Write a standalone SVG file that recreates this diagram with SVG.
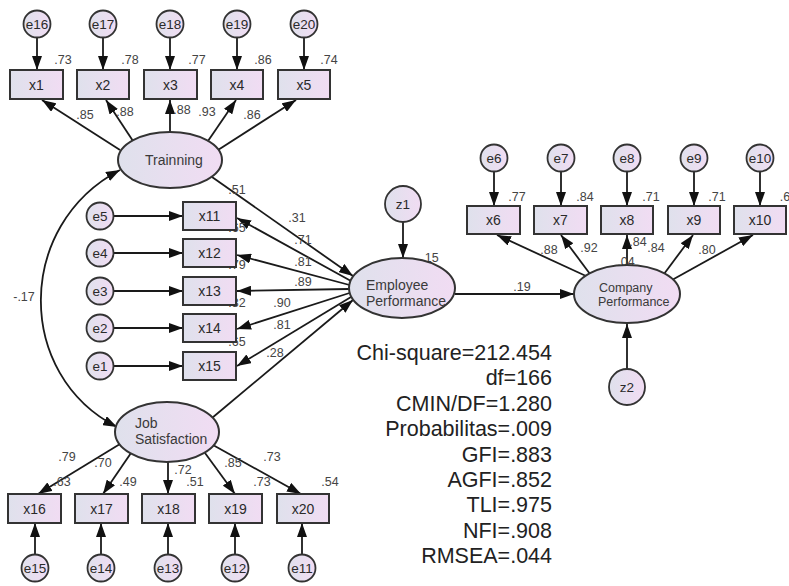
<svg xmlns="http://www.w3.org/2000/svg" width="789" height="586" viewBox="0 0 789 586">
<defs>
<linearGradient id="gf" x1="0" y1="0" x2="1" y2="0">
<stop offset="0" stop-color="#dfe1ec"/>
<stop offset="1" stop-color="#f1dcf3"/>
</linearGradient>
<marker id="ah" viewBox="0 0 14 10" refX="14" refY="5" markerWidth="14" markerHeight="10" markerUnits="userSpaceOnUse" orient="auto-start-reverse">
<path d="M0,0 L14,5 L0,10 z" fill="#111"/>
</marker>
<style>
.box{fill:url(#gf);stroke:#333;stroke-width:2}
.ell{fill:url(#gf);stroke:#333;stroke-width:2}
.cir{fill:url(#gf);stroke:#333;stroke-width:1.8}
.ln{stroke:#1a1a1a;stroke-width:1.8;fill:none;marker-end:url(#ah)}
.bl{font-family:"Liberation Sans",Arial,sans-serif;font-size:14px;fill:#2a2a2a;text-anchor:middle}
.el{font-family:"Liberation Sans",Arial,sans-serif;font-size:13.5px;fill:#2a2a2a;text-anchor:middle}
.lt{font-family:"Liberation Sans",Arial,sans-serif;font-size:14px;fill:#3a3a3a}
.co{font-family:"Liberation Sans",Arial,sans-serif;font-size:12.5px;fill:#444;text-anchor:middle}
.st{font-family:"Liberation Sans",Arial,sans-serif;font-size:21.5px;fill:#222;text-anchor:end}
</style>
</defs>
<rect width="789" height="586" fill="#fff"/>

<g id="connectors">
<line class="ln" x1="37" y1="37.5" x2="37" y2="70"/>
<line class="ln" x1="103" y1="37.5" x2="103" y2="70"/>
<line class="ln" x1="170" y1="37.5" x2="170" y2="70"/>
<line class="ln" x1="237" y1="37.5" x2="237" y2="70"/>
<line class="ln" x1="304" y1="37.5" x2="304" y2="70"/>
<line class="ln" x1="120" y1="150" x2="42" y2="100"/>
<line class="ln" x1="133" y1="141" x2="106" y2="100"/>
<line class="ln" x1="170" y1="132" x2="170" y2="100"/>
<line class="ln" x1="208" y1="141" x2="236" y2="100"/>
<line class="ln" x1="218" y1="150" x2="296" y2="100"/>
<line class="ln" x1="113.5" y1="216" x2="183" y2="216"/>
<line class="ln" x1="113.5" y1="253" x2="183" y2="253"/>
<line class="ln" x1="113.5" y1="291" x2="183" y2="291"/>
<line class="ln" x1="113.5" y1="328" x2="183" y2="328"/>
<line class="ln" x1="113.5" y1="366" x2="183" y2="366"/>
<line class="ln" x1="212" y1="177" x2="353" y2="276"/>
<line class="ln" x1="212" y1="418" x2="353" y2="300"/>
<line class="ln" x1="351" y1="281" x2="237" y2="218"/>
<line class="ln" x1="349.5" y1="285" x2="237" y2="255"/>
<line class="ln" x1="349" y1="289" x2="237" y2="291"/>
<line class="ln" x1="349.5" y1="293" x2="237" y2="329"/>
<line class="ln" x1="351" y1="297" x2="237" y2="366"/>
<line class="ln" x1="403" y1="222" x2="403" y2="258"/>
<line class="ln" x1="455" y1="294" x2="574" y2="294"/>
<line class="ln" x1="494" y1="171.5" x2="494" y2="206"/>
<line class="ln" x1="561" y1="171.5" x2="561" y2="206"/>
<line class="ln" x1="627" y1="171.5" x2="627" y2="206"/>
<line class="ln" x1="694" y1="171.5" x2="694" y2="206"/>
<line class="ln" x1="760" y1="171.5" x2="760" y2="206"/>
<line class="ln" x1="586" y1="276" x2="497" y2="235"/>
<line class="ln" x1="590" y1="274" x2="561" y2="235"/>
<line class="ln" x1="627" y1="265" x2="627" y2="235"/>
<line class="ln" x1="664" y1="274" x2="693" y2="235"/>
<line class="ln" x1="672" y1="280" x2="753" y2="235"/>
<line class="ln" x1="627" y1="368" x2="627" y2="324"/>
<line class="ln" x1="120" y1="444" x2="38" y2="494"/>
<line class="ln" x1="131" y1="453" x2="103" y2="494"/>
<line class="ln" x1="168" y1="462" x2="168" y2="494"/>
<line class="ln" x1="205" y1="453" x2="235" y2="494"/>
<line class="ln" x1="213" y1="445" x2="301" y2="494"/>
<line class="ln" x1="35" y1="554.5" x2="35" y2="523"/>
<line class="ln" x1="101" y1="554.5" x2="101" y2="523"/>
<line class="ln" x1="168" y1="554.5" x2="168" y2="523"/>
<line class="ln" x1="235" y1="554.5" x2="235" y2="523"/>
<line class="ln" x1="302" y1="554.5" x2="302" y2="523"/>
<path class="ln" d="M120,170 C15,225 15,375 117,427" style="marker-start:url(#ah)"/>
</g>

<g id="coefficients">
<text class="co" x="63" y="64">.73</text>
<text class="co" x="130" y="64">.78</text>
<text class="co" x="197" y="64">.77</text>
<text class="co" x="263" y="64">.86</text>
<text class="co" x="329" y="64">.74</text>
<text class="co" x="85" y="119">.85</text>
<text class="co" x="125" y="116">.88</text>
<text class="co" x="182" y="114">.88</text>
<text class="co" x="207" y="116">.93</text>
<text class="co" x="252" y="119">.86</text>
<text class="co" x="24" y="301">-.17</text>
<text class="co" x="237" y="194">.51</text>
<text class="co" x="297" y="222">.31</text>
<text class="co" x="237" y="232">.65</text>
<text class="co" x="303" y="244">.71</text>
<text class="co" x="237" y="269">.79</text>
<text class="co" x="303" y="266">.81</text>
<text class="co" x="303" y="286">.89</text>
<text class="co" x="237" y="307">.82</text>
<text class="co" x="282" y="307">.90</text>
<text class="co" x="282" y="329">.81</text>
<text class="co" x="237" y="346">.65</text>
<text class="co" x="275" y="357">.28</text>
<text class="co" x="430" y="262">.15</text>
<text class="co" x="522" y="291">.19</text>
<text class="co" x="517" y="201">.77</text>
<text class="co" x="585" y="201">.84</text>
<text class="co" x="651" y="201">.71</text>
<text class="co" x="717" y="201">.71</text>
<text class="co" x="785" y="201">.6</text>
<text class="co" x="549" y="254">.88</text>
<text class="co" x="589" y="252">.92</text>
<text class="co" x="638" y="246">.84</text>
<text class="co" x="626" y="266">.04</text>
<text class="co" x="656" y="252">.84</text>
<text class="co" x="707" y="254">.80</text>
<text class="co" x="67" y="461">.79</text>
<text class="co" x="103" y="467">.70</text>
<text class="co" x="183" y="474">.72</text>
<text class="co" x="233" y="467">.85</text>
<text class="co" x="272" y="461">.73</text>
<text class="co" x="62" y="486">.63</text>
<text class="co" x="128" y="486">.49</text>
<text class="co" x="195" y="486">.51</text>
<text class="co" x="262" y="486">.73</text>
<text class="co" x="330" y="486">.54</text>
</g>

<g id="e16"><circle class="cir" cx="37" cy="24" r="13.5"/><text class="el" x="37" y="28.8">e16</text></g>
<g id="e17"><circle class="cir" cx="103" cy="24" r="13.5"/><text class="el" x="103" y="28.8">e17</text></g>
<g id="e18"><circle class="cir" cx="170" cy="24" r="13.5"/><text class="el" x="170" y="28.8">e18</text></g>
<g id="e19"><circle class="cir" cx="237" cy="24" r="13.5"/><text class="el" x="237" y="28.8">e19</text></g>
<g id="e20"><circle class="cir" cx="304" cy="24" r="13.5"/><text class="el" x="304" y="28.8">e20</text></g>

<g id="x1"><rect class="box" x="10" y="70" width="53" height="29"/><text class="bl" x="36.5" y="89.5">x1</text></g>
<g id="x2"><rect class="box" x="77" y="70" width="52" height="29"/><text class="bl" x="103" y="89.5">x2</text></g>
<g id="x3"><rect class="box" x="144" y="70" width="53" height="29"/><text class="bl" x="170.5" y="89.5">x3</text></g>
<g id="x4"><rect class="box" x="211" y="70" width="52" height="29"/><text class="bl" x="237" y="89.5">x4</text></g>
<g id="x5"><rect class="box" x="278" y="70" width="52" height="29"/><text class="bl" x="304" y="89.5">x5</text></g>

<g id="trainning"><ellipse class="ell" cx="170" cy="160" rx="52" ry="28"/><text class="lt" x="145" y="165">Trainning</text></g>

<g id="e5"><circle class="cir" cx="100" cy="216" r="13.5"/><text class="el" x="100" y="220.8">e5</text></g>
<g id="e4"><circle class="cir" cx="100" cy="253" r="13.5"/><text class="el" x="100" y="257.8">e4</text></g>
<g id="e3"><circle class="cir" cx="100" cy="291" r="13.5"/><text class="el" x="100" y="295.8">e3</text></g>
<g id="e2"><circle class="cir" cx="100" cy="328" r="13.5"/><text class="el" x="100" y="332.8">e2</text></g>
<g id="e1"><circle class="cir" cx="100" cy="366" r="13.5"/><text class="el" x="100" y="370.8">e1</text></g>

<g id="x11"><rect class="box" x="183" y="202" width="53" height="28"/><text class="bl" x="209.5" y="221">x11</text></g>
<g id="x12"><rect class="box" x="183" y="239" width="53" height="28"/><text class="bl" x="209.5" y="258">x12</text></g>
<g id="x13"><rect class="box" x="183" y="277" width="53" height="28"/><text class="bl" x="209.5" y="296">x13</text></g>
<g id="x14"><rect class="box" x="183" y="314" width="53" height="28"/><text class="bl" x="209.5" y="333">x14</text></g>
<g id="x15"><rect class="box" x="183" y="352" width="53" height="28"/><text class="bl" x="209.5" y="371">x15</text></g>

<g id="z1"><circle class="cir" cx="403" cy="204" r="18"/><text class="el" x="403" y="209">z1</text></g>
<g id="employee-performance"><ellipse class="ell" cx="402" cy="288" rx="53" ry="30"/><text class="lt" x="366" y="290">Employee</text><text class="lt" x="366" y="306">Performance</text></g>

<g id="e6"><circle class="cir" cx="494" cy="158" r="13.5"/><text class="el" x="494" y="162.8">e6</text></g>
<g id="e7"><circle class="cir" cx="561" cy="158" r="13.5"/><text class="el" x="561" y="162.8">e7</text></g>
<g id="e8"><circle class="cir" cx="627" cy="158" r="13.5"/><text class="el" x="627" y="162.8">e8</text></g>
<g id="e9"><circle class="cir" cx="694" cy="158" r="13.5"/><text class="el" x="694" y="162.8">e9</text></g>
<g id="e10"><circle class="cir" cx="760" cy="158" r="13.5"/><text class="el" x="760" y="162.8">e10</text></g>

<g id="x6"><rect class="box" x="467" y="206" width="53" height="28"/><text class="bl" x="493.5" y="225">x6</text></g>
<g id="x7"><rect class="box" x="534" y="206" width="53" height="28"/><text class="bl" x="560.5" y="225">x7</text></g>
<g id="x8"><rect class="box" x="601" y="206" width="52" height="28"/><text class="bl" x="627" y="225">x8</text></g>
<g id="x9"><rect class="box" x="668" y="206" width="52" height="28"/><text class="bl" x="694" y="225">x9</text></g>
<g id="x10"><rect class="box" x="734" y="206" width="52" height="28"/><text class="bl" x="760" y="225">x10</text></g>

<g id="company-performance"><ellipse class="ell" cx="627" cy="294" rx="53" ry="29"/><text class="lt" x="599" y="292" style="font-size:12.5px">Company</text><text class="lt" x="598" y="306" style="font-size:12.5px">Performance</text></g>
<g id="z2"><circle class="cir" cx="627" cy="387" r="18"/><text class="el" x="627" y="392">z2</text></g>

<g id="job-satisfaction"><ellipse class="ell" cx="167" cy="432" rx="52" ry="30"/><text class="lt" x="135" y="428">Job</text><text class="lt" x="135" y="444">Satisfaction</text></g>

<g id="x16"><rect class="box" x="8" y="494" width="53" height="29"/><text class="bl" x="34.5" y="513.5">x16</text></g>
<g id="x17"><rect class="box" x="75" y="494" width="53" height="29"/><text class="bl" x="101.5" y="513.5">x17</text></g>
<g id="x18"><rect class="box" x="142" y="494" width="53" height="29"/><text class="bl" x="168.5" y="513.5">x18</text></g>
<g id="x19"><rect class="box" x="209" y="494" width="53" height="29"/><text class="bl" x="235.5" y="513.5">x19</text></g>
<g id="x20"><rect class="box" x="277" y="494" width="52" height="29"/><text class="bl" x="303" y="513.5">x20</text></g>

<g id="e15"><circle class="cir" cx="35" cy="568" r="13.5"/><text class="el" x="35" y="572.8">e15</text></g>
<g id="e14"><circle class="cir" cx="101" cy="568" r="13.5"/><text class="el" x="101" y="572.8">e14</text></g>
<g id="e13"><circle class="cir" cx="168" cy="568" r="13.5"/><text class="el" x="168" y="572.8">e13</text></g>
<g id="e12"><circle class="cir" cx="235" cy="568" r="13.5"/><text class="el" x="235" y="572.8">e12</text></g>
<g id="e11"><circle class="cir" cx="302" cy="568" r="13.5"/><text class="el" x="302" y="572.8">e11</text></g>

<g id="fit-statistics">
<text class="st" x="552" y="360">Chi-square=212.454</text>
<text class="st" x="552" y="385.4">df=166</text>
<text class="st" x="552" y="410.8">CMIN/DF=1.280</text>
<text class="st" x="552" y="436.2">Probabilitas=.009</text>
<text class="st" x="552" y="461.6">GFI=.883</text>
<text class="st" x="552" y="487">AGFI=.852</text>
<text class="st" x="552" y="512.4">TLI=.975</text>
<text class="st" x="552" y="537.8">NFI=.908</text>
<text class="st" x="552" y="563.2">RMSEA=.044</text>
</g>
</svg>
